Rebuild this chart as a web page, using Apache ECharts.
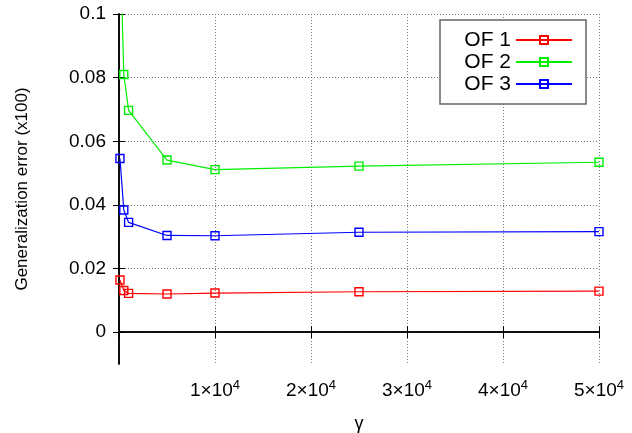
<!DOCTYPE html>
<html>
<head>
<meta charset="utf-8">
<script src="https://cdn.jsdelivr.net/npm/echarts@6/dist/echarts.min.js"></script>
<style>
  html, body { margin: 0; padding: 0; background: #fff; }
  #chart { width: 632px; height: 433px; }
</style>
</head>
<body>
<div id="chart"></div>
<script>
// gamma values on the horizontal axis
const gammaValues = [100, 500, 1000, 5000, 10000, 25000, 50000];
// generalization error (x100) for each objective function
const of1Values = [0.0164, 0.0131, 0.0122, 0.0120, 0.0123, 0.0127, 0.0129];
const of2Values = [0.125, 0.0810, 0.0697, 0.0541, 0.0511, 0.0522, 0.0534];
const of3Values = [0.0546, 0.0384, 0.0345, 0.0304, 0.0303, 0.0314, 0.0316];
const seriesNames = ['OF 1', 'OF 2', 'OF 3'];
const yTickValues = [0, 0.02, 0.04, 0.06, 0.08, 0.1];

const colors = ['#ff0000', '#00ee00', '#0000ff'];
const fontFamily = '"Liberation Sans", Arial, sans-serif';

function pairs(xs, ys) { return xs.map((x, i) => [x, ys[i]]); }

function makeSeries(name, values, color) {
  return {
    name: name,
    type: 'line',
    data: pairs(gammaValues, values),
    symbol: 'rect',
    symbolSize: 8,
    clip: true,
    lineStyle: { color: color, width: 1.2 },
    itemStyle: { color: 'rgba(255,255,255,0)', borderColor: color, borderWidth: 1.4 },
    emphasis: { disabled: true },
    animation: false
  };
}

const gridLine = { show: true, lineStyle: { color: '#777', type: [1, 2], width: 1 } };
const axisLine = { show: true, lineStyle: { color: '#000', width: 1.5 } };
const innerTick = { show: true, inside: true, length: 6, lineStyle: { color: '#000', width: 1 } };

const chart = echarts.init(document.getElementById('chart'));
chart.setOption({
  animation: false,
  grid: { left: 119, right: 33, top: 14, bottom: 69, containLabel: false, outerBoundsMode: 'none' },
  legend: {
    data: seriesNames,
    orient: 'vertical',
    right: 46,
    top: 20,
    align: 'right',
    itemWidth: 56,
    itemHeight: 10,
    itemGap: 0,
    padding: [9, 13, 9, 16],
    borderColor: '#666',
    borderWidth: 1.5,
    borderRadius: 0,
    backgroundColor: '#fff',
    textStyle: { fontFamily: fontFamily, fontSize: 21, lineHeight: 22, width: 55, color: '#000' }
  },
  xAxis: [{
    type: 'value',
    min: 0, max: 50000, interval: 10000,
    name: 'γ',
    nameLocation: 'middle',
    nameGap: 51,
    nameTextStyle: { fontFamily: fontFamily, fontSize: 18, color: '#000' },
    axisLine: axisLine,
    axisTick: innerTick,
    splitLine: gridLine,
    axisLabel: {
      margin: 15,
      fontFamily: fontFamily, fontSize: 19, color: '#000',
      formatter: function (v) {
        if (v === 0) return '';
        return (v / 10000) + '×10{sup|4}';
      },
      rich: { sup: { fontFamily: fontFamily, fontSize: 13, color: '#000', verticalAlign: 'top', padding: [0, 0, 10, 0] } }
    }
  }, {
    type: 'value', position: 'top',
    min: 0, max: 50000, interval: 10000,
    axisLine: axisLine,
    axisTick: innerTick,
    axisLabel: { show: false },
    splitLine: { show: false }
  }],
  yAxis: [{
    type: 'value',
    min: -0.01, max: 0.1,
    name: 'Generalization error (x100)',
    nameLocation: 'middle',
    nameGap: 88,
    nameTextStyle: { fontFamily: fontFamily, fontSize: 17, color: '#000' },
    axisLine: axisLine,
    axisTick: Object.assign({ customValues: yTickValues }, innerTick),
    splitLine: gridLine,
    axisLabel: {
      customValues: yTickValues,
      margin: 13,
      fontFamily: fontFamily, fontSize: 19, color: '#000'
    }
  }, {
    type: 'value', position: 'right',
    min: -0.01, max: 0.1,
    axisLine: axisLine,
    axisTick: Object.assign({ customValues: yTickValues }, innerTick),
    axisLabel: { show: false, customValues: yTickValues },
    splitLine: { show: false }
  }],
  series: [
    makeSeries(seriesNames[0], of1Values, colors[0]),
    makeSeries(seriesNames[1], of2Values, colors[1]),
    makeSeries(seriesNames[2], of3Values, colors[2])
  ]
});
</script>
</body>
</html>
